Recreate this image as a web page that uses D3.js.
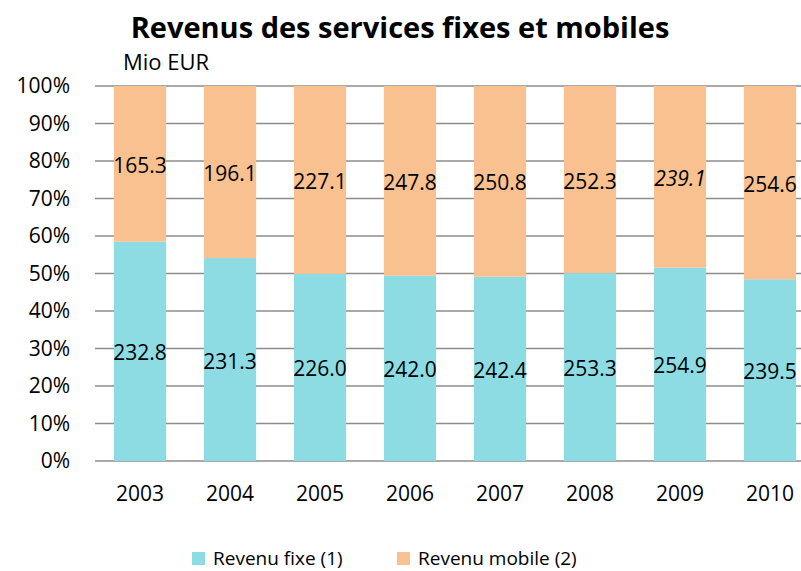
<!DOCTYPE html>
<html>
<head>
<meta charset="utf-8">
<script src="https://cdn.jsdelivr.net/npm/d3@7"></script>
<style>
  body { margin: 0; background: #fff; }
  text { font-family: "Open Sans", Lato, sans-serif; }
</style>
</head>
<body>
<div id="root"></div>
<script>
// Data
var years = ["2003", "2004", "2005", "2006", "2007", "2008", "2009", "2010"];
var fixe = [232.8, 231.3, 226.0, 242.0, 242.4, 253.3, 254.9, 239.5];
var mobile = [165.3, 196.1, 227.1, 247.8, 250.8, 252.3, 239.1, 254.6];
var mobileItalic = [false, false, false, false, false, false, true, false];
var seriesNames = ["Revenu fixe (1)", "Revenu mobile (2)"];
var colors = ["#8ddce3", "#f9c18f"];
var yTicks = [0, 0.1, 0.2, 0.3, 0.4, 0.5, 0.6, 0.7, 0.8, 0.9, 1];

var W = 801, H = 571;
var plotLeft = 95, plotRight = 815, plotTop = 86, plotBottom = 461;

var svg = d3.select("#root").append("svg")
  .attr("width", W)
  .attr("height", H);

// Title
svg.append("text")
  .attr("x", 400).attr("y", 38)
  .attr("text-anchor", "middle")
  .attr("font-size", 29)
  .attr("font-weight", "bold")
  .text("Revenus des services fixes et mobiles");

svg.append("text")
  .attr("x", 123).attr("y", 70)
  .attr("font-size", 22)
  .text("Mio EUR");

// Scales
var x = d3.scaleBand()
  .domain(years)
  .range([plotLeft, plotRight])
  .paddingInner(0.42)
  .paddingOuter(0.21);

var y = d3.scaleLinear()
  .domain([0, 1])
  .range([plotBottom, plotTop]);

// Gridlines
svg.append("g")
  .selectAll("line")
  .data(yTicks)
  .enter().append("line")
  .attr("x1", plotLeft).attr("x2", plotRight)
  .attr("y1", function (d) { return y(d); })
  .attr("y2", function (d) { return y(d); })
  .attr("stroke", "#8c8c8c")
  .attr("stroke-width", 1.5);

// Y axis
var yAxis = svg.append("g")
  .attr("transform", "translate(" + plotLeft + ",0)")
  .call(d3.axisLeft(y).tickValues(yTicks).tickSize(0).tickPadding(25)
    .tickFormat(d3.format(".0%")));
yAxis.select(".domain").remove();
yAxis.selectAll("text")
  .attr("font-size", 21)
  .attr("fill", "#000")
  .style("font-family", "'Open Sans', Lato, sans-serif");

// X axis
var xAxis = svg.append("g")
  .attr("transform", "translate(0," + plotBottom + ")")
  .call(d3.axisBottom(x).tickSize(0).tickPadding(25));
xAxis.select(".domain").remove();
xAxis.selectAll("text")
  .attr("font-size", 21)
  .attr("fill", "#000")
  .style("font-family", "'Open Sans', Lato, sans-serif");

// Stacked shares
var rows = years.map(function (yr, i) {
  var tot = fixe[i] + mobile[i];
  return { year: yr, f: fixe[i], m: mobile[i], fs: fixe[i] / tot, it: mobileItalic[i] };
});

var bars = svg.append("g");

bars.selectAll(".fixe")
  .data(rows)
  .enter().append("rect")
  .attr("x", function (d) { return x(d.year); })
  .attr("width", x.bandwidth())
  .attr("y", function (d) { return y(d.fs); })
  .attr("height", function (d) { return y(0) - y(d.fs); })
  .attr("fill", colors[0]);

bars.selectAll(".mobile")
  .data(rows)
  .enter().append("rect")
  .attr("x", function (d) { return x(d.year); })
  .attr("width", x.bandwidth())
  .attr("y", y(1))
  .attr("height", function (d) { return y(d.fs) - y(1); })
  .attr("fill", colors[1]);

// Value labels
var labels = svg.append("g");

labels.selectAll(".lf")
  .data(rows)
  .enter().append("text")
  .attr("x", function (d) { return x(d.year) + x.bandwidth() / 2; })
  .attr("y", function (d) { return (y(0) + y(d.fs)) / 2 + 9; })
  .attr("text-anchor", "middle")
  .attr("font-size", 21)
  .text(function (d) { return d.f.toFixed(1); });

labels.selectAll(".lm")
  .data(rows)
  .enter().append("text")
  .attr("x", function (d) { return x(d.year) + x.bandwidth() / 2; })
  .attr("y", function (d) { return (y(1) + y(d.fs)) / 2 + 9; })
  .attr("text-anchor", "middle")
  .attr("font-size", 21)
  .attr("font-style", function (d) { return d.it ? "italic" : "normal"; })
  .text(function (d) { return d.m.toFixed(1); });

// Legend
var legendX = [192, 397];
var legend = svg.append("g");
seriesNames.forEach(function (name, i) {
  legend.append("rect")
    .attr("x", legendX[i]).attr("y", 552)
    .attr("width", 13).attr("height", 13)
    .attr("fill", colors[i]);
  legend.append("text")
    .attr("x", legendX[i] + 21).attr("y", 565)
    .attr("font-size", 19)
    .text(name);
});
</script>
</body>
</html>
